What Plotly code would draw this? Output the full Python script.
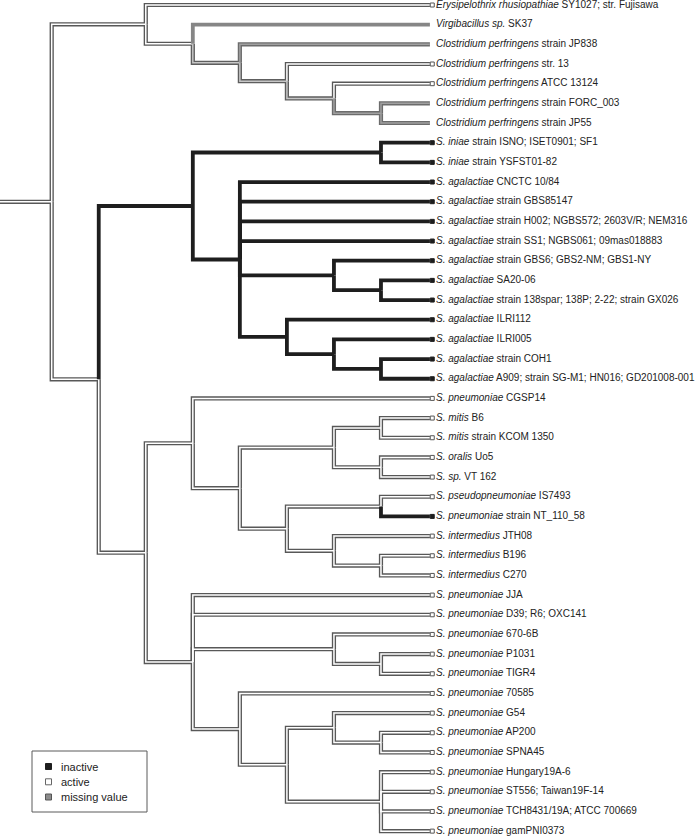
import plotly.graph_objects as go

# ---------------- data ----------------
species = [
    "Erysipelothrix rhusiopathiae", "Virgibacillus sp.", "Clostridium perfringens",
    "Clostridium perfringens", "Clostridium perfringens", "Clostridium perfringens",
    "Clostridium perfringens", "S. iniae", "S. iniae", "S. agalactiae", "S. agalactiae",
    "S. agalactiae", "S. agalactiae", "S. agalactiae", "S. agalactiae", "S. agalactiae",
    "S. agalactiae", "S. agalactiae", "S. agalactiae", "S. agalactiae", "S. pneumoniae",
    "S. mitis", "S. mitis", "S. oralis", "S. sp.", "S. pseudopneumoniae", "S. pneumoniae",
    "S. intermedius", "S. intermedius", "S. intermedius", "S. pneumoniae", "S. pneumoniae",
    "S. pneumoniae", "S. pneumoniae", "S. pneumoniae", "S. pneumoniae", "S. pneumoniae",
    "S. pneumoniae", "S. pneumoniae", "S. pneumoniae", "S. pneumoniae", "S. pneumoniae",
    "S. pneumoniae",
]
strains = [
    "SY1027; str. Fujisawa", "SK37", "strain JP838", "str. 13", "ATCC 13124",
    "strain FORC_003", "strain JP55", "strain ISNO; ISET0901; SF1", "strain YSFST01-82",
    "CNCTC 10/84", "strain GBS85147", "strain H002; NGBS572; 2603V/R; NEM316",
    "strain SS1; NGBS061; 09mas018883", "strain GBS6; GBS2-NM; GBS1-NY", "SA20-06",
    "strain 138spar; 138P; 2-22; strain GX026", "ILRI112", "ILRI005", "strain COH1",
    "A909; strain SG-M1; HN016; GD201008-001", "CGSP14", "B6", "strain KCOM 1350", "Uo5",
    "VT 162", "IS7493", "strain NT_110_58", "JTH08", "B196", "C270", "JJA",
    "D39; R6; OXC141", "670-6B", "P1031", "TIGR4", "70585", "G54", "AP200", "SPNA45",
    "Hungary19A-6", "ST556; Taiwan19F-14", "TCH8431/19A; ATCC 700669", "gamPNI0373",
]
leaf_state = (
    ["active", "missing", "mixB", "active", "active", "mixB", "mixB"]
    + ["inactive"] * 13
    + ["active"] * 6 + ["inactive"] + ["active"] * 16
)

# topology: [depth, state, child, child, ...]; ints are leaf indices
tree = [1, "active",
        [3, "active", 0,
         [4, "active", 1,
          [5, "mixA", 2,
           [6, "mixA", 3,
            [7, "mixA", 4,
             [8, "mixB", 5, 6]]]]]],
        [2, "active",
         [4, "inactive",
          [8, "inactive", 7, 8],
          [5, "inactive", 9, 10, 11, 12,
           [7, "inactive", 13, [8, "inactive", 14, 15]],
           [6, "inactive", 16, [7, "inactive", 17, [8, "inactive", 18, 19]]]]],
         [3, "active",
          [4, "active", 20,
           [5, "active",
            [7, "active", [8, "active", 21, 22], [8, "active", 23, 24]],
            [6, "active", [8, "active", 25, 26], [7, "active", 27, [8, "active", 28, 29]]]]],
          [4, "active", 30, 31,
           [7, "active", 32, [8, "active", 33, 34]],
           [5, "active", 35,
            [6, "active",
             [7, "active", 36, [8, "active", 37, 38]],
             [8, "active", 39, 40, 41, 42]]]]]]]

legend_labels = ["inactive", "active", "missing value"]

# ---------------- styling ----------------
LEAF_X = 9.04
ROOT_X = -0.3
LABEL_X = 9.17
OUTER = {"active": "#585858", "mixA": "#5e5e5e", "mixB": "#6c6c6c"}
INNER = {"active": "#ffffff", "mixA": "#c6c6c6", "mixB": "#a0a0a0"}
SOLID = {"missing": "#868686", "inactive": "#1e1e1e"}

segs = {k: ([], []) for k in list(OUTER) + list(SOLID)}


def build(node):
    if isinstance(node, int):
        return LEAF_X, float(node)
    depth, state, *children = node
    pos = [build(c) for c in children]
    y = (pos[0][1] + pos[-1][1]) / 2
    for c, (cx, cy) in zip(children, pos):
        st = leaf_state[c] if isinstance(c, int) else c[1]
        xs, ys = segs[st]
        xs += [depth, depth, cx, None]
        ys += [y, cy, cy, None]
    return depth, y


rx, ry = build(tree)
segs[tree[1]][0].extend([ROOT_X, rx, None])
segs[tree[1]][1].extend([ry, ry, None])

fig = go.Figure()
for st, col in OUTER.items():
    xs, ys = segs[st]
    fig.add_trace(go.Scatter(x=xs, y=ys, mode="lines",
                             line=dict(color=col, width=4.2), hoverinfo="skip"))
for st, col in INNER.items():
    xs, ys = segs[st]
    fig.add_trace(go.Scatter(x=xs, y=ys, mode="lines",
                             line=dict(color=col, width=1.5), hoverinfo="skip"))
for st, col in SOLID.items():
    xs, ys = segs[st]
    fig.add_trace(go.Scatter(x=xs, y=ys, mode="lines",
                             line=dict(color=col, width=3.8), hoverinfo="skip"))

# leaf end markers
for st, fill, edge in [("active", "#ffffff", "#555555"), ("inactive", "#1e1e1e", "#1e1e1e")]:
    idx = [i for i, s in enumerate(leaf_state) if s == st]
    fig.add_trace(go.Scatter(
        x=[LEAF_X + 0.05] * len(idx), y=idx, mode="markers",
        marker=dict(symbol="square", size=4, color=fill, line=dict(color=edge, width=1)),
        hoverinfo="skip"))

# labels
fig.add_trace(go.Scatter(
    x=[LABEL_X] * len(species), y=list(range(len(species))), mode="text",
    text=[f"<i>{s}</i> {t}" for s, t in zip(species, strains)],
    textposition="middle right",
    textfont=dict(family="Liberation Sans, Arial, sans-serif", size=10, color="#222222"),
    hoverinfo="skip"))

# legend box (paper coords)
W, H = 700, 838
def px(x):
    return x / W
def py(y):
    return 1 - y / H

shapes = [dict(type="rect", xref="paper", yref="paper",
               x0=px(32), x1=px(147), y0=py(812), y1=py(751),
               line=dict(color="#5a5a5a", width=1), fillcolor="white")]
leg_fill = ["#1e1e1e", "#ffffff", "#8c8c8c"]
leg_edge = ["#1e1e1e", "#666666", "#555555"]
leg_y = [766.5, 781.8, 797]
annotations = []
for lab, f, e, yy in zip(legend_labels, leg_fill, leg_edge, leg_y):
    shapes.append(dict(type="rect", xref="paper", yref="paper",
                       x0=px(45.5), x1=px(51.5), y0=py(yy + 3), y1=py(yy - 3),
                       line=dict(color=e, width=1), fillcolor=f))
    annotations.append(dict(xref="paper", yref="paper", x=px(58.5), y=py(yy),
                            xanchor="left", yanchor="middle", showarrow=False, text=lab,
                            font=dict(family="Liberation Sans, Arial, sans-serif",
                                      size=11, color="#222222")))

fig.update_layout(
    width=W, height=H, margin=dict(l=0, r=0, t=0, b=0),
    paper_bgcolor="white", plot_bgcolor="white", showlegend=False,
    xaxis=dict(range=[-0.0991, 14.782], visible=False, fixedrange=True),
    yaxis=dict(range=[42.349, -0.2542], visible=False, fixedrange=True),
    shapes=shapes, annotations=annotations,
)

fig.write_html("out.html",
               config={"displayModeBar": False, "staticPlot": True},
               post_script="document.body.style.margin='0';document.body.style.overflow='hidden';")
